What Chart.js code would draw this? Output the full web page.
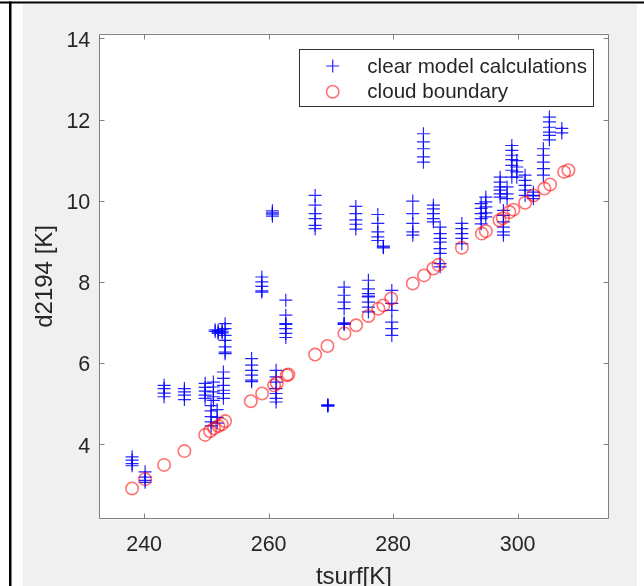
<!DOCTYPE html>
<html>
<head>
<meta charset="utf-8">
<script src="https://cdn.jsdelivr.net/npm/chart.js@4.4.1/dist/chart.umd.min.js"></script>
<style>
  html, body { margin: 0; padding: 0; background: #ffffff; overflow: hidden; }
  canvas { display: block; }
</style>
</head>
<body>
<canvas id="c" width="644" height="586"></canvas>
<script>
// Surface temperature of each case [K]
const boundaryT = [238.07, 240.16, 243.21, 246.47, 249.80, 250.60, 251.24, 251.94, 252.48, 253.01,
  257.14, 258.96, 260.88, 261.32, 262.92, 263.18, 267.47, 269.45, 272.18, 274.06,
  276.03, 277.64, 278.44, 279.68, 283.16, 284.98, 286.47, 287.28, 291.04, 294.25,
  294.89, 297.08, 297.62, 298.68, 299.33, 301.20, 302.54, 304.30, 305.22, 307.47, 308.16];
// Cloud boundary d2194 [K]
const boundaryD = [2.91, 3.14, 3.49, 3.83, 4.23, 4.32, 4.39, 4.45, 4.49, 4.57,
  5.06, 5.25, 5.45, 5.51, 5.70, 5.72, 6.21, 6.42, 6.73, 6.93,
  7.16, 7.34, 7.42, 7.59, 7.96, 8.16, 8.33, 8.42, 8.84, 9.19,
  9.25, 9.52, 9.57, 9.72, 9.78, 9.95, 10.13, 10.30, 10.40, 10.71, 10.75];

// Clear-sky model runs: one surface temperature per group, several d2194 values each
const clearT = [238.07, 240.16, 243.21, 246.47, 249.80, 250.76, 251.13, 251.41, 251.73, 251.89,
  252.53, 252.74, 253.01, 257.27, 258.91, 260.61, 261.20, 262.76, 267.47, 269.51,
  272.13, 274.01, 276.03, 277.54, 278.44, 279.79, 283.16, 284.87, 286.47, 287.55,
  291.04, 294.14, 294.89, 297.19, 297.72, 298.31, 299.07, 299.87, 301.20, 302.54,
  304.14, 305.11, 307.10];
const clearD = [
  [3.69, 3.61, 3.52, 3.47],
  [3.32, 3.19, 3.11, 3.06],
  [5.45, 5.37, 5.26, 5.17],
  [5.37, 5.29, 5.21, 5.10],
  [5.50, 5.40, 5.31, 5.21, 5.13],
  [4.95, 4.82, 4.68, 4.55, 4.45],
  [5.53, 5.41, 5.29, 5.17, 5.08],
  [6.82, 6.78],
  [4.85, 4.66, 4.52],
  [6.80, 6.76, 6.73],
  [6.82, 6.77, 6.74],
  [5.78, 5.62, 5.45, 5.33, 5.25, 5.13],
  [6.97, 6.85, 6.68, 6.56, 6.40, 6.27, 6.23],
  [6.11, 5.95, 5.82, 5.70, 5.58, 5.54],
  [8.12, 8.00, 7.89, 7.78, 7.75],
  [9.75, 9.70, 9.67, 9.62],
  [5.82, 5.66, 5.53, 5.37, 5.25, 5.13, 5.04],
  [7.55, 7.18, 6.97, 6.95, 6.85, 6.73, 6.63],
  [10.13, 9.89, 9.68, 9.56, 9.39, 9.31],
  [4.97, 4.96, 4.95, 4.94],
  [7.87, 7.67, 7.50, 7.34, 6.99, 6.97, 6.95],
  [9.86, 9.68, 9.53, 9.42, 9.30],
  [8.04, 7.83, 7.71, 7.65, 7.63, 7.50, 7.38, 7.26],
  [9.66, 9.44, 9.23, 9.11, 9.02],
  [8.88, 8.86, 8.84],
  [7.79, 7.47, 7.30, 7.01, 6.85, 6.68],
  [9.99, 9.68, 9.44, 9.23, 9.15],
  [11.65, 11.45, 11.28, 11.08, 10.95],
  [9.89, 9.80, 9.68, 9.56, 9.48],
  [9.35, 9.19, 9.07, 8.98, 8.82, 8.70, 8.45, 8.37],
  [9.44, 9.31, 9.19, 9.07, 8.94],
  [9.93, 9.81, 9.68, 9.56, 9.43],
  [10.09, 9.97, 9.85, 9.70, 9.60],
  [10.58, 10.46, 10.34, 10.26, 10.17, 10.09],
  [9.76, 9.64, 9.48, 9.35, 9.23, 9.15],
  [10.34, 10.17, 10.05],
  [11.36, 11.24, 11.12, 11.01, 10.87, 10.75, 10.58],
  [10.99, 10.83, 10.71, 10.58],
  [10.63, 10.50, 10.38, 10.26, 10.13],
  [10.21, 10.13, 10.12, 10.05],
  [11.28, 11.12, 10.95, 10.79, 10.63],
  [12.06, 11.94, 11.81, 11.69, 11.61, 11.50],
  [11.78, 11.67]
];

const xTicks = [240, 260, 280, 300];
const yTicks = [4, 6, 8, 10, 12, 14];
const xRange = [232.8, 314.6];
const yRange = [2.15, 14.12];
const seriesNames = ['clear model calculations', 'cloud boundary'];
const xTitle = 'tsurf[K]';
const yTitle = 'd2194 [K]';

const clearPoints = [];
clearT.forEach((t, i) => clearD[i].forEach(d => clearPoints.push({ x: t, y: d })));
const boundaryPoints = boundaryT.map((t, i) => ({ x: t, y: boundaryD[i] }));

const FONT = '"Liberation Sans", Arial, Helvetica, sans-serif';
const TEXT = '#262626';
const AXIS = '#808080';

Chart.defaults.font.family = FONT;
Chart.defaults.color = TEXT;

// Figure background, white axes box, outer frame
const framePlugin = {
  id: 'frame',
  beforeDraw(chart) {
    const ctx = chart.ctx;
    const a = chart.chartArea;
    ctx.save();
    ctx.fillStyle = '#ffffff';
    ctx.fillRect(0, 0, chart.width, chart.height);
    ctx.fillStyle = '#f0f0f0';
    ctx.fillRect(22.7, 4, 614, chart.height - 4);
    ctx.fillStyle = '#000000';
    ctx.fillRect(0, 1.5, chart.width, 2);
    ctx.fillRect(9, 1.5, 2.5, chart.height);
    ctx.fillStyle = '#ffffff';
    ctx.fillRect(a.left, a.top, a.right - a.left, a.bottom - a.top);
    ctx.restore();
  },
  beforeDatasetsDraw(chart) {
    const ctx = chart.ctx;
    const a = chart.chartArea;
    const xs = chart.scales.x, ys = chart.scales.y;
    const L = Math.round(a.left) + 0.5, R = Math.round(a.right) - 0.5;
    const T = Math.round(a.top) + 0.5, B = Math.round(a.bottom) - 0.5;
    ctx.save();
    ctx.strokeStyle = AXIS;
    ctx.lineWidth = 1;
    ctx.beginPath();
    ctx.rect(L, T, R - L, B - T);
    const tl = 5;
    xs.ticks.forEach(t => {
      const px = Math.round(xs.getPixelForValue(t.value)) + 0.5;
      ctx.moveTo(px, B); ctx.lineTo(px, B - tl);
      ctx.moveTo(px, T); ctx.lineTo(px, T + tl);
    });
    ys.ticks.forEach(t => {
      const py = Math.round(ys.getPixelForValue(t.value)) + 0.5;
      ctx.moveTo(L, py); ctx.lineTo(L + tl, py);
      ctx.moveTo(R, py); ctx.lineTo(R - tl, py);
    });
    ctx.stroke();
    ctx.restore();
  }
};

// Boxed legend in the upper right of the axes
const boxLegendPlugin = {
  id: 'boxLegend',
  afterDatasetsDraw(chart) {
    const ctx = chart.ctx;
    const bx = 299.5, by = 49.5, bw = 294, bh = 57;
    ctx.save();
    ctx.fillStyle = '#ffffff';
    ctx.fillRect(bx, by, bw, bh);
    ctx.strokeStyle = '#333333';
    ctx.lineWidth = 1;
    ctx.strokeRect(bx, by, bw, bh);
    const rows = [66, 91.7];
    const mx = 332.7, tx = 367.3;
    chart.data.datasets.forEach((ds, i) => {
      const y = rows[i];
      ctx.strokeStyle = ds.borderColor;
      ctx.lineWidth = ds.borderWidth;
      ctx.beginPath();
      const r = ds.pointRadius;
      if (ds.pointStyle === 'cross') {
        ctx.moveTo(mx - r, y); ctx.lineTo(mx + r, y);
        ctx.moveTo(mx, y - r); ctx.lineTo(mx, y + r);
      } else {
        ctx.arc(mx, y, r, 0, Math.PI * 2);
      }
      ctx.stroke();
      ctx.fillStyle = TEXT;
      ctx.font = '20.6px ' + FONT;
      ctx.textBaseline = 'middle';
      ctx.textAlign = 'left';
      ctx.fillText(ds.label, tx, y + 1);
    });
    ctx.restore();
  }
};

new Chart(document.getElementById('c'), {
  type: 'scatter',
  data: {
    datasets: [
      {
        label: seriesNames[0],
        data: clearPoints,
        pointStyle: 'cross',
        pointRadius: 6.5,
        borderColor: 'rgba(0,0,255,0.85)',
        backgroundColor: 'rgba(0,0,255,0.85)',
        borderWidth: 1.2,
        order: 1
      },
      {
        label: seriesNames[1],
        data: boundaryPoints,
        pointStyle: 'circle',
        pointRadius: 6.2,
        borderColor: 'rgba(255,0,0,0.55)',
        backgroundColor: 'rgba(0,0,0,0)',
        borderWidth: 1.6,
        order: 0
      }
    ]
  },
  options: {
    responsive: false,
    animation: false,
    devicePixelRatio: 1,
    layout: { padding: { left: 0, top: 33.5, right: 35.5, bottom: 0 } },
    plugins: {
      legend: { display: false },
      tooltip: { enabled: false }
    },
    elements: { point: { hoverRadius: 6 } },
    scales: {
      x: {
        type: 'linear',
        min: xRange[0],
        max: xRange[1],
        grid: { display: false, drawTicks: false },
        border: { display: false },
        afterBuildTicks: s => { s.ticks = xTicks.map(v => ({ value: v })); },
        afterFit: s => { s.height = 66.7; },
        ticks: {
          autoSkip: false,
          maxRotation: 0,
          padding: 13,
          color: TEXT,
          font: { size: 21.5 }
        },
        title: {
          display: true,
          text: xTitle,
          color: TEXT,
          font: { size: 24, lineHeight: 1 },
          padding: { top: 0, bottom: -3 }
        }
      },
      y: {
        type: 'linear',
        min: yRange[0],
        max: yRange[1],
        grid: { display: false, drawTicks: false },
        border: { display: false },
        afterBuildTicks: s => { s.ticks = yTicks.map(v => ({ value: v })); },
        afterFit: s => { s.width = 99.3; },
        ticks: {
          autoSkip: false,
          padding: 9,
          labelOffset: 2.5,
          color: TEXT,
          font: { size: 21.5 }
        },
        title: {
          display: true,
          text: yTitle,
          color: TEXT,
          font: { size: 24, lineHeight: 1 },
          padding: { top: 33, bottom: 0 }
        }
      }
    }
  },
  plugins: [framePlugin, boxLegendPlugin]
});
</script>
</body>
</html>
